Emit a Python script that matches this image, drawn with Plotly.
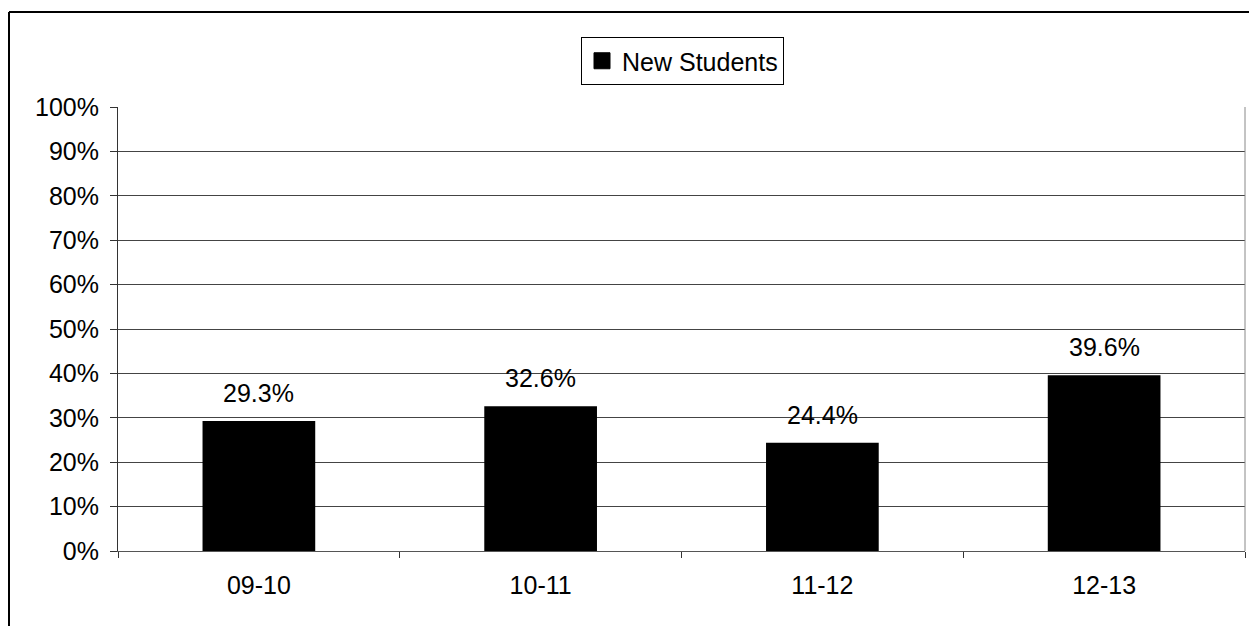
import plotly.graph_objects as go

categories = ["09-10", "10-11", "11-12", "12-13"]
values = [0.293, 0.326, 0.244, 0.396]
series_name = "New Students"

W, H = 1249, 626
L, R, T, B = 118, 1245, 107, 551
FONT = "Liberation Sans, Arial"
FS = 25

def px(x):
    return (x - L) / (R - L)

def py(y):
    return (B - y) / (B - T)

fig = go.Figure()
fig.add_trace(go.Bar(
    x=categories, y=values, name=series_name, showlegend=False,
    marker=dict(color="black", line=dict(width=0)),
))
# legend entry with a larger square swatch
fig.add_trace(go.Scatter(
    x=[categories[0]], y=[None], mode="markers", name=series_name,
    marker=dict(symbol="square", size=16, color="black",
                line=dict(color="black", width=1)),
    showlegend=True, hoverinfo="skip",
))

annotations = [
    dict(x=c, y=v, xref="x", yref="y", text=f"{v*100:.1f}%",
         showarrow=False, yanchor="bottom", yshift=12,
         font=dict(size=FS, color="black", family=FONT))
    for c, v in zip(categories, values)
]

fig.update_layout(
    width=W, height=H,
    margin=dict(l=L, r=W - R, t=T, b=H - B),
    paper_bgcolor="white", plot_bgcolor="white",
    font=dict(family=FONT, size=FS, color="black"),
    bargap=0.6,
    showlegend=True,
    annotations=annotations,
    legend=dict(
        x=px(581), y=py(37), xanchor="left", yanchor="top",
        bordercolor="black", borderwidth=1,
        font=dict(size=FS), itemsizing="trace",
        itemwidth=30, tracegroupgap=0,
    ),
    yaxis=dict(
        range=[0, 1], dtick=0.1, tickformat=".0%",
        showgrid=True, gridcolor="#444", gridwidth=1,
        showline=True, linecolor="#333", linewidth=1,
        ticks="outside", ticklen=7, tickcolor="#333",
        ticklabelstandoff=6,
        zeroline=False, fixedrange=True,
    ),
    xaxis=dict(
        type="category",
        showgrid=False, showline=True, linecolor="#555", linewidth=1,
        ticks="outside", ticklen=6, tickcolor="#333",
        ticklabelstandoff=12,
        tickson="boundaries", fixedrange=True,
    ),
    shapes=[
        dict(type="line", xref="paper", yref="paper",
             x0=px(9), x1=px(1260), y0=py(12), y1=py(12),
             line=dict(color="black", width=2)),
        dict(type="line", xref="paper", yref="paper",
             x0=px(9), x1=px(9), y0=py(12), y1=py(640),
             line=dict(color="black", width=2)),
        dict(type="line", xref="paper", yref="paper",
             x0=1, x1=1, y0=0, y1=1,
             line=dict(color="#888", width=1)),
    ],
)

fig.write_html("out.html")
